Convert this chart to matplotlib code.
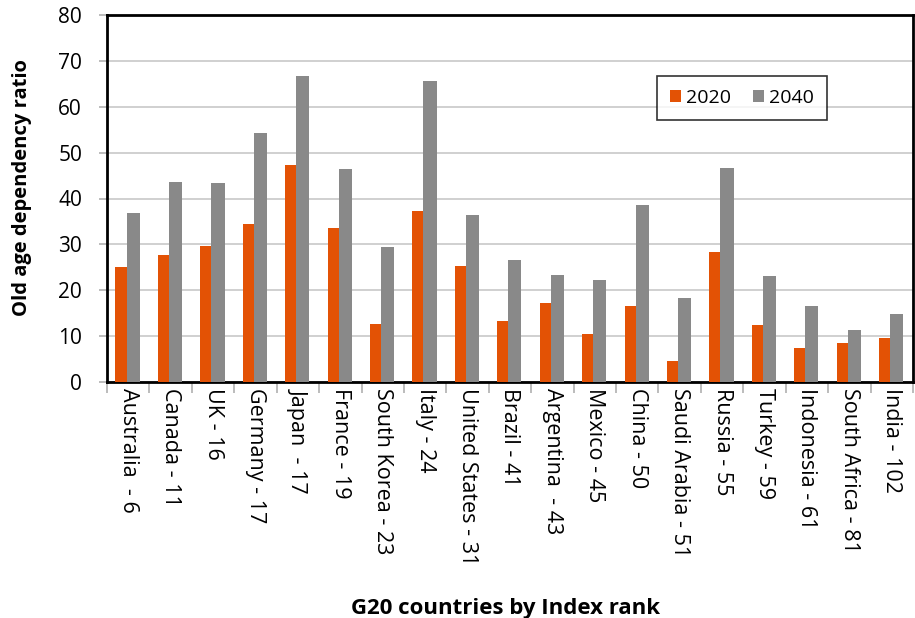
import numpy as np
import matplotlib
matplotlib.use("Agg")
import matplotlib.pyplot as plt

plt.rcParams["font.family"] = ["Open Sans", "DejaVu Sans"]

countries = [
    "Australia  - 6", "Canada - 11", "UK - 16", "Germany - 17", "Japan  - 17",
    "France - 19", "South Korea - 23", "Italy - 24", "United States - 31",
    "Brazil - 41", "Argentina  - 43", "Mexico - 45", "China - 50",
    "Saudi Arabia - 51", "Russia - 55", "Turkey - 59", "Indonesia - 61",
    "South Africa - 81", "India - 102",
]
ratio_2020 = [25.1, 27.7, 29.6, 34.4, 47.3, 33.6, 12.6, 37.3, 25.3, 13.3,
              17.2, 10.5, 16.6, 4.6, 28.3, 12.4, 7.4, 8.5, 9.6]
ratio_2040 = [36.9, 43.6, 43.4, 54.3, 66.7, 46.4, 29.4, 65.6, 36.4, 26.6,
              23.3, 22.2, 38.6, 18.3, 46.6, 23.1, 16.6, 11.3, 14.8]

ORANGE = "#e35205"
GRAY = "#898989"

fig = plt.figure(figsize=(9.15, 6.18), dpi=100)
ax = fig.add_axes([107 / 915, 1 - 382 / 618, 806 / 915, 367 / 618])

x = np.arange(len(countries))
w_2020, w_2040 = 0.26, 0.31
left = x - 0.30
ax.bar(left, ratio_2020, width=w_2020, align="edge", color=ORANGE,
       label="2020", zorder=3)
ax.bar(left + w_2020, ratio_2040, width=w_2040, align="edge", color=GRAY,
       label="2040", zorder=3)

ax.set_xlim(-0.5, len(countries) - 0.5)
ax.set_ylim(0, 80)
ax.set_yticks(range(0, 81, 10))
ax.yaxis.grid(True, color="#c8c8c8", linewidth=1.2, zorder=0)
ax.tick_params(axis="y", length=6, width=1.2, color="#b0b0b0",
               labelsize=15, pad=12)

# tick marks sit between categories, labels sit at the category centres
ax.set_xticks(np.arange(len(countries) + 1) - 0.5)
ax.set_xticklabels([])
ax.set_xticks(x, minor=True)
ax.set_xticklabels(countries, minor=True, rotation=270, fontsize=15.5,
                   va="top", ha="center")
ax.tick_params(axis="x", which="major", length=8, width=1.2, color="#b0b0b0")
ax.tick_params(axis="x", which="minor", length=0, pad=4)

for side in ax.spines.values():
    side.set_linewidth(2)
    side.set_color("black")

ax.set_ylabel("Old age dependency ratio", fontsize=14.5, fontweight="bold")
ax.yaxis.set_label_coords(-0.093, 0.53)
fig.text(0.553, 0.006, "G20 countries by Index rank", ha="center",
         va="baseline", fontsize=16, fontweight="bold")

leg = ax.legend(loc="upper left", bbox_to_anchor=(0.682, 0.834), ncol=2,
                frameon=True, fancybox=False, fontsize=14, handlelength=0.55,
                handleheight=0.55, handletextpad=0.3, columnspacing=1.1,
                borderpad=0.68, borderaxespad=0)
leg.get_frame().set_edgecolor("black")
leg.get_frame().set_linewidth(1.2)

fig.savefig("out.png", dpi=100)
